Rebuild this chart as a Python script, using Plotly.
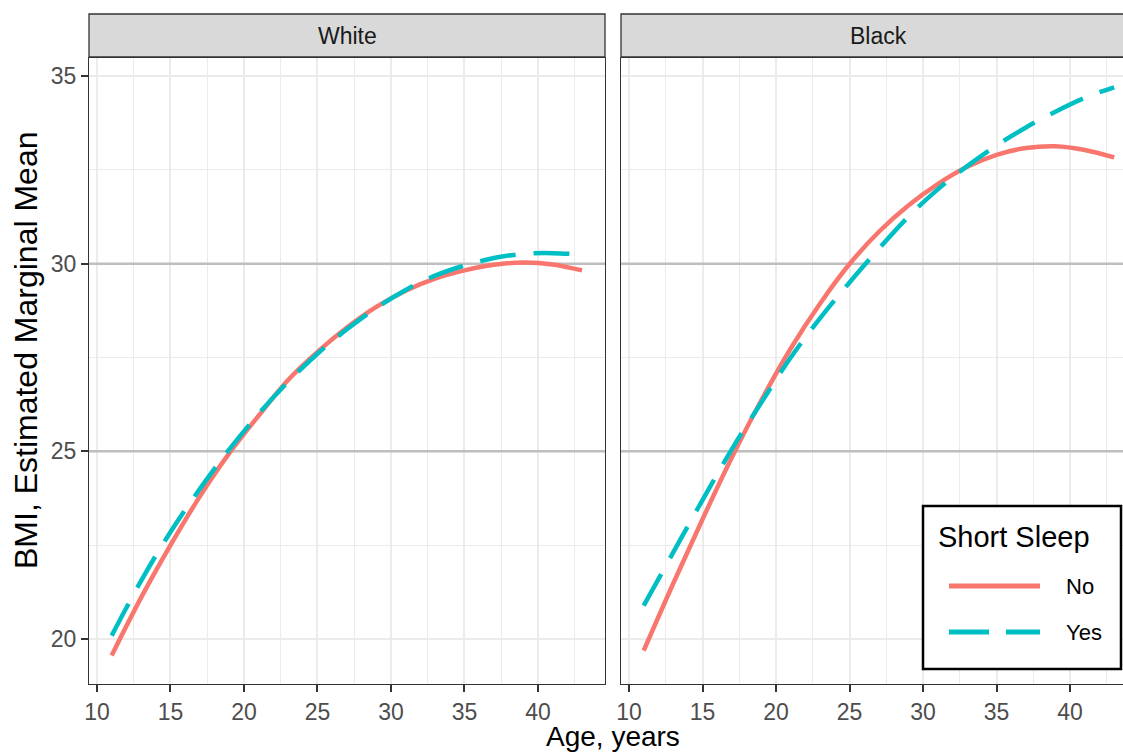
import plotly.graph_objects as go

# ---------------- data ----------------
ages = [11, 13, 15, 17, 19, 21, 23, 25, 27, 29, 31, 33, 35, 37, 39, 41, 43]

white_no = [19.56, 21.10, 22.50, 23.80, 24.95, 25.95, 26.90, 27.65, 28.30,
            28.85, 29.28, 29.60, 29.82, 29.97, 30.03, 29.98, 29.82]
white_yes = [20.09, 21.55, 22.85, 24.00, 25.05, 26.00, 26.85, 27.60, 28.25,
             28.82, 29.30, 29.68, 29.95, 30.15, 30.26, 30.28, 30.24]
black_no = [19.69, 21.47, 23.19, 24.84, 26.36, 27.74, 28.94, 29.99, 30.85,
            31.55, 32.12, 32.58, 32.90, 33.08, 33.13, 33.03, 32.83]
black_yes = [20.89, 22.30, 23.70, 25.06, 26.30, 27.50, 28.55, 29.50, 30.40,
             31.25, 31.98, 32.60, 33.15, 33.63, 34.05, 34.42, 34.70]

panels = ["White", "Black"]
groups = ["No", "Yes"]
x_ticks = [10, 15, 20, 25, 30, 35, 40]
x_minor = [12.5, 17.5, 22.5, 27.5, 32.5, 37.5, 42.5]
y_ticks = [20, 25, 30, 35]
y_minor = [22.5, 27.5, 32.5]
ref_lines = [25, 30]

# axis ranges (ggplot-style expansion; right panel is cut at the image edge)
x_range_left = [9.456, 44.56]
x_range_right = [9.456, 43.6]
y_range = [18.8, 35.48]

# ---------------- style ----------------
RED = "#F8766D"
CYAN = "#00BFC4"
FONT = "Liberation Sans, Arial, sans-serif"
W, H = 1123, 753
L, R, T, B = 89, 0, 58, 69
PW, PH = W - L - R, H - T - B


def px(x):
    return (x - L) / PW


def py(y):
    return (H - B - y) / PH


fig = go.Figure()

series = {
    ("White", "No"): white_no, ("White", "Yes"): white_yes,
    ("Black", "No"): black_no, ("Black", "Yes"): black_yes,
}
for i, panel in enumerate(panels):
    xa = "x" if i == 0 else "x2"
    ya = "y" if i == 0 else "y2"
    xr = x_range_left if i == 0 else x_range_right
    # gray reference lines (under the curves)
    for v in ref_lines:
        fig.add_trace(go.Scatter(
            x=xr, y=[v, v], mode="lines",
            line=dict(color="#bebebe", width=2.5),
            xaxis=xa, yaxis=ya, showlegend=False, hoverinfo="skip"))
    for g in groups:
        fig.add_trace(go.Scatter(
            x=ages, y=series[(panel, g)], mode="lines",
            line=dict(color=RED if g == "No" else CYAN, width=4.5,
                      shape="spline",
                      dash="solid" if g == "No" else "36px,18px"),
            xaxis=xa, yaxis=ya, showlegend=False, hoverinfo="skip"))

TICKFONT = dict(family=FONT, size=23, color="#4d4d4d")
common_x = dict(
    tickvals=x_ticks, ticks="outside", ticklen=7, tickwidth=2, tickcolor="#333333",
    tickfont=TICKFONT,
    showgrid=True, gridcolor="#ebebeb", gridwidth=2, zeroline=False,
    showline=True, linecolor="#333333", linewidth=1.3, mirror=True,
    minor=dict(tickvals=x_minor, showgrid=True, gridcolor="#ebebeb", gridwidth=1, ticks=""),
)
common_y = dict(
    tickvals=y_ticks, ticklen=7, tickwidth=2, tickcolor="#333333",
    tickfont=TICKFONT,
    showgrid=True, gridcolor="#ebebeb", gridwidth=2, zeroline=False,
    showline=True, linecolor="#333333", linewidth=1.3,
    minor=dict(tickvals=y_minor, showgrid=True, gridcolor="#ebebeb", gridwidth=1, ticks=""),
)

fig.update_layout(
    width=W, height=H,
    margin=dict(l=L, r=R, t=T, b=B),
    paper_bgcolor="white", plot_bgcolor="white",
    font=dict(family=FONT),
    showlegend=False,
    xaxis=dict(domain=[0, px(605)], range=x_range_left, anchor="y", **common_x),
    xaxis2=dict(domain=[px(621), 1], range=x_range_right, anchor="y2", **common_x),
    yaxis=dict(domain=[0, 1], range=y_range, anchor="x", ticks="outside",
               mirror=True, **common_y),
    yaxis2=dict(domain=[0, 1], range=y_range, anchor="x2", ticks="",
                showticklabels=False, mirror=False, **common_y),
)

shapes = []
annotations = []
# facet strips
for i, panel in enumerate(panels):
    shapes.append(dict(type="rect", xref="paper", yref="paper",
                       x0=0 if i == 0 else px(621), x1=px(605) if i == 0 else 1.05,
                       y0=py(57), y1=py(14),
                       fillcolor="#d9d9d9", line=dict(color="#333333", width=1.3),
                       layer="above"))
    annotations.append(dict(text=panel, xref="paper", yref="paper",
                            x=px(347) if i == 0 else px(878), y=py(36),
                            xanchor="center", yanchor="middle", showarrow=False,
                            font=dict(family=FONT, size=23, color="#1a1a1a")))

# axis titles
annotations.append(dict(text="Age, years", xref="paper", yref="paper",
                        x=px(613), y=py(736), xanchor="center", yanchor="middle",
                        showarrow=False, font=dict(family=FONT, size=28, color="black")))
annotations.append(dict(text="BMI, Estimated Marginal Mean", xref="paper", yref="paper",
                        x=px(26), y=py(350), xanchor="center", yanchor="middle",
                        textangle=-90, showarrow=False,
                        font=dict(family=FONT, size=32, color="black")))

# legend (drawn inside the right panel)
shapes.append(dict(type="rect", xref="paper", yref="paper",
                   x0=px(923), x1=px(1121), y0=py(669), y1=py(506),
                   fillcolor="white", line=dict(color="black", width=2.5), layer="above"))
annotations.append(dict(text="Short Sleep", xref="paper", yref="paper",
                        x=px(936), y=py(537), xanchor="left", yanchor="middle",
                        showarrow=False, font=dict(family=FONT, size=29, color="black")))
for g, yk in zip(groups, [586, 632]):
    shapes.append(dict(type="line", xref="paper", yref="paper",
                       x0=px(949), x1=px(1040), y0=py(yk), y1=py(yk),
                       line=dict(color=RED if g == "No" else CYAN, width=5,
                                 dash="solid" if g == "No" else "40px,17px"),
                       layer="above"))
    annotations.append(dict(text=g, xref="paper", yref="paper",
                            x=px(1064), y=py(yk), xanchor="left", yanchor="middle",
                            showarrow=False, font=dict(family=FONT, size=22, color="black")))

fig.update_layout(shapes=shapes, annotations=annotations)
fig.write_html("out.html", config={"displayModeBar": False},
               post_script="document.body.style.margin='0';")
